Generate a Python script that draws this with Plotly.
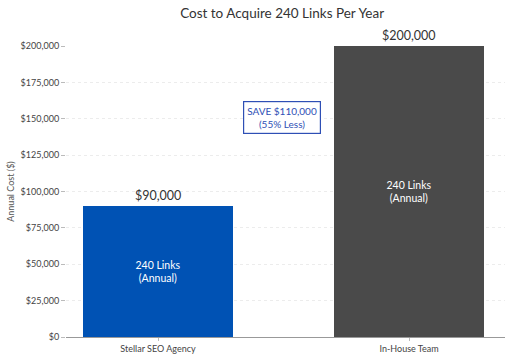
import plotly.graph_objects as go

categories = ["Stellar SEO Agency", "In-House Team"]
costs = [90000, 200000]
value_labels = ["$90,000", "$200,000"]
inner_labels = ["240 Links<br>(Annual)", "240 Links<br>(Annual)"]
colors = ["#0052B4", "#4A4A4A"]
y_ticks = [0, 25000, 50000, 75000, 100000, 125000, 150000, 175000, 200000]
y_tick_labels = ["$0", "$25,000", "$50,000", "$75,000", "$100,000", "$125,000",
                 "$150,000", "$175,000", "$200,000"]
savings_text = "SAVE $110,000<br>(55% Less)"
savings_pos = (0.494, 151000)

x_pos = list(range(len(categories)))
FONT = "Lato, Roboto, sans-serif"

fig = go.Figure()
fig.add_trace(go.Bar(
    x=x_pos, y=costs, width=0.598,
    marker=dict(color=colors, line=dict(width=0)),
    text=inner_labels, textposition="inside", insidetextanchor="middle",
    textfont=dict(color="white", size=10.5, family=FONT),
    hoverinfo="skip",
))
for xi, v, lab in zip(x_pos, costs, value_labels):
    fig.add_annotation(x=xi, y=v, text=lab, showarrow=False, yanchor="bottom",
                       yshift=1, font=dict(size=12.5, color="#333333", family=FONT))

fig.add_annotation(x=savings_pos[0], y=savings_pos[1], text=savings_text, showarrow=False,
                   font=dict(size=10, color="#2E4FB5", family=FONT),
                   bordercolor="#2E4FB5", borderwidth=1.2, borderpad=3,
                   bgcolor="white")

fig.update_layout(
    width=512, height=358,
    margin=dict(l=66, r=7, t=46, b=21, autoexpand=False),
    paper_bgcolor="white", plot_bgcolor="white",
    showlegend=False,
    title=dict(text="Cost to Acquire 240 Links Per Year", x=0.551, xanchor="center",
               y=0.962, yanchor="middle",
               font=dict(size=13.5, color="#333333", family=FONT)),
    font=dict(family=FONT, color="#444444"),
    bargap=0,
)
fig.update_xaxes(
    range=[-0.3665, 1.382], tickvals=x_pos, ticktext=categories,
    ticks="outside", ticklen=3, tickcolor="#bbbbbb", automargin=False,
    showline=True, linecolor="#999999", linewidth=1,
    showgrid=False, zeroline=False,
    tickfont=dict(size=9, color="#444444", family=FONT),
)
fig.update_yaxes(
    range=[0, 200000], tickvals=y_ticks, ticktext=y_tick_labels,
    ticks="outside", ticklen=4, tickcolor="#bbbbbb", automargin=False,
    showgrid=True, gridcolor="#ececec", griddash="dot", gridwidth=1,
    zeroline=False, showline=False,
    tickfont=dict(size=9, color="#444444", family=FONT),
    title=dict(text="Annual Cost ($)", standoff=4,
               font=dict(size=9, color="#555555", family=FONT)),
)

fig.write_html("out.html", config={"displayModeBar": False},
               post_script="document.body.style.margin='0';")
